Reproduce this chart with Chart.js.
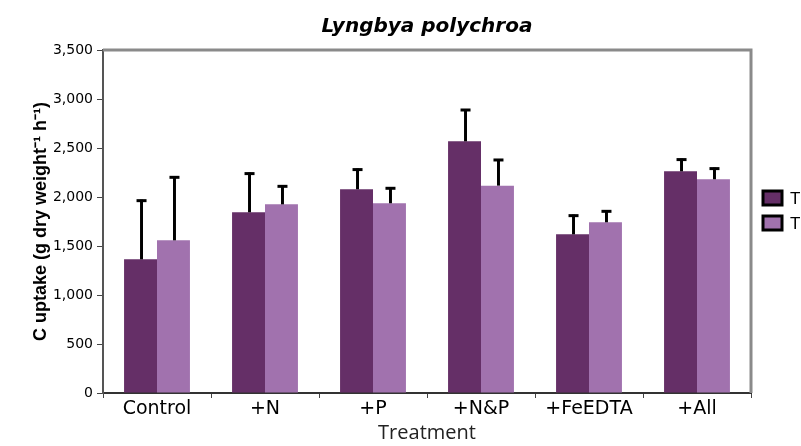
<!DOCTYPE html>
<html>
<head>
<meta charset="utf-8">
<script src="https://cdn.jsdelivr.net/npm/chart.js@4"></script>
<style>
  html, body { margin: 0; padding: 0; background: #fff; overflow: hidden; }
  canvas { display: block; }
</style>
</head>
<body>
<canvas id="chart" width="801" height="446"></canvas>
<script>
// ---------------- DATA ----------------

const treatments = ["Control", "+N", "+P", "+N&P", "+FeEDTA", "+All"];
const seriesLabels = ["T\u2081", "T\u2082"];
const t1Values = [1364, 1844, 2079, 2568, 1619, 2262];
const t1Errors = [609, 405, 211, 330, 201, 130];
const t2Values = [1558, 1925, 1936, 2116, 1742, 2181];
const t2Errors = [653, 194, 163, 272, 122, 119];
const yTicks = [0, 500, 1000, 1500, 2000, 2500, 3000, 3500];

const darkPurple = "#652f67";
const lightPurple = "#a172ae";

// ---------------- PLUGINS ----------------

// upward error whiskers on each bar
const errorBars = {
    id: "errorBars",
    afterDatasetsDraw(chart) {
        const ctx = chart.ctx;
        const y = chart.scales.y;
        chart.data.datasets.forEach((ds, i) => {
            const meta = chart.getDatasetMeta(i);
            meta.data.forEach((bar, j) => {
                const top = y.getPixelForValue(ds.data[j] + ds.errors[j]);
                ctx.save();
                ctx.strokeStyle = "#000";
                ctx.lineWidth = 3;
                ctx.beginPath();
                ctx.moveTo(bar.x + 1, bar.y);
                ctx.lineTo(bar.x + 1, top);
                ctx.stroke();
                ctx.beginPath();
                ctx.moveTo(bar.x - 4, top + 1);
                ctx.lineTo(bar.x + 6, top + 1);
                ctx.stroke();
                ctx.restore();
            });
        });
    }
};

// gray frame on top and right of the plot area
const plotFrame = {
    id: "plotFrame",
    afterDraw(chart) {
        const { ctx, chartArea: a } = chart;
        ctx.save();
        ctx.strokeStyle = "#8a8a8a";
        ctx.lineWidth = 3;
        ctx.beginPath();
        ctx.moveTo(a.left, a.top);
        ctx.lineTo(a.right, a.top);
        ctx.lineTo(a.right, a.bottom);
        ctx.stroke();
        ctx.restore();
    }
};

// legend boxes to the right of the frame
const sideLegend = {
    id: "sideLegend",
    afterDraw(chart) {
        const { ctx, chartArea: a } = chart;
        chart.data.datasets.forEach((ds, i) => {
            const x = a.right + 12;
            const yy = 191 + i * 25;
            ctx.save();
            ctx.fillStyle = ds.backgroundColor;
            ctx.fillRect(x, yy, 19, 14);
            ctx.strokeStyle = "#000";
            ctx.lineWidth = 3;
            ctx.strokeRect(x, yy, 19, 14);
            ctx.fillStyle = "#000";
            ctx.font = "17px 'Liberation Sans', Arial, sans-serif";
            ctx.textBaseline = "middle";
            ctx.fillText(ds.label, x + 27, yy + 8);
            ctx.restore();
        });
    }
};

// ---------------- CHART ----------------

const ctx = document.getElementById("chart").getContext("2d");

const chart = new Chart(ctx, {
    type: "bar",
    data: {
        labels: treatments,
        datasets: [
            {
                label: seriesLabels[0],
                data: t1Values,
                errors: t1Errors,
                backgroundColor: darkPurple,
                categoryPercentage: 0.61,
                barPercentage: 1.0
            },
            {
                label: seriesLabels[1],
                data: t2Values,
                errors: t2Errors,
                backgroundColor: lightPurple,
                categoryPercentage: 0.61,
                barPercentage: 1.0
            }
        ]
    },
    options: {
        responsive: false,
        animation: false,
        layout: { padding: { left: 0, right: 50, top: 0, bottom: 0 } },
        plugins: {
            legend: { display: false },
            tooltip: { enabled: false },
            title: {
                display: true,
                fullSize: false,
                text: "Lyngbya polychroa",
                color: "#000",
                font: { family: "'DejaVu Sans', sans-serif", size: 20, weight: "bold", style: "italic" },
                padding: { top: 15, bottom: 11 }
            }
        },
        scales: {
            x: {
                grid: {
                    display: true,
                    drawOnChartArea: false,
                    tickLength: 5,
                    color: "#444"
                },
                border: { color: "#333", width: 2 },
                ticks: {
                    color: "#000",
                    padding: 0,
                    font: { family: "'DejaVu Sans', sans-serif", size: 19 }
                },
                title: {
                    display: true,
                    text: "Treatment",
                    color: "#222",
                    font: { family: "'Open Sans', sans-serif", size: 20 },
                    padding: { top: 0, bottom: 1 }
                },
                afterFit(scale) { scale.height = 53; }
            },
            y: {
                min: 0,
                max: 3500,
                afterBuildTicks(scale) {
                    scale.ticks = yTicks.map(v => ({ value: v }));
                },
                grid: {
                    display: true,
                    drawOnChartArea: false,
                    tickLength: 6,
                    color: "#444"
                },
                border: { color: "#555", width: 2 },
                ticks: {
                    color: "#000",
                    padding: 4,
                    font: { family: "'DejaVu Sans', sans-serif", size: 14 },
                    callback: v => v.toLocaleString("en-US")
                },
                title: {
                    display: true,
                    text: "C uptake (g dry weight\u207B\u00B9 h\u207B\u00B9)",
                    color: "#000",
                    font: { family: "'Liberation Sans', Arial, sans-serif", size: 18, weight: "bold" },
                    padding: { top: 30, bottom: 0 }
                },
                afterFit(scale) { scale.width = 103; }
            }
        }
    },
    plugins: [errorBars, plotFrame, sideLegend]
});
</script>
</body>
</html>
